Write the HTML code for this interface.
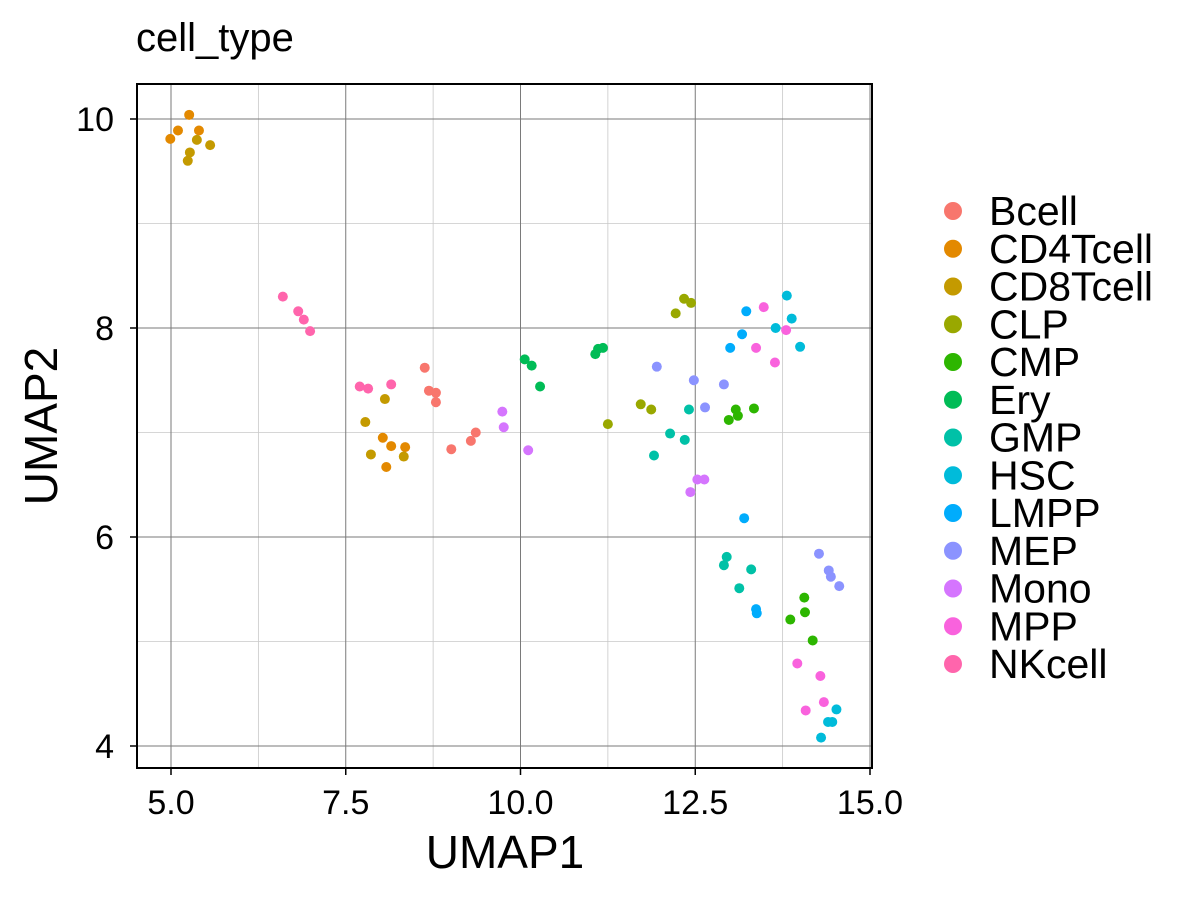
<!DOCTYPE html>
<html><head><meta charset="utf-8"><style>
body{margin:0;background:#fff;}
text{font-family:"Liberation Sans",Arial,sans-serif;}
</style></head><body>
<svg id="chart" width="1200" height="900" viewBox="0 0 1200 900">
<rect width="1200" height="900" fill="#fff"/>
<text x="136" y="51" font-size="40" fill="#000">cell_type</text>
<g id="grid"></g>
<g id="points"></g>
<rect x="137" y="84" width="735" height="684" fill="none" stroke="#000" stroke-width="2"/>
<g id="axes"></g>
<text x="505" y="868" font-size="46" text-anchor="middle">UMAP1</text>
<text transform="translate(57,426) rotate(-90)" font-size="46" text-anchor="middle">UMAP2</text>
<g id="legend"></g>
</svg>
<script>
const cellTypes=["Bcell","CD4Tcell","CD8Tcell","CLP","CMP","Ery","GMP","HSC","LMPP","MEP","Mono","MPP","NKcell"];
const typeColors=["#F8766D","#E38900","#C49A00","#99A800","#2DB600","#00BC56","#00C1A7","#00BBDA","#00ACFC","#8B93FF","#D575FE","#F962DD","#FF65AC"];
const xTicks=[5,7.5,10,12.5,15];
const xTickLabels=["5.0","7.5","10.0","12.5","15.0"];
const yTicks=[4,6,8,10];
const yTickLabels=["4","6","8","10"];
const xMinor=[6.25,8.75,11.25,13.75];
const yMinor=[5,7,9];
const bcellX=[8.63,8.69,8.79,8.79,9.36,9.29,9.01];
const bcellY=[7.62,7.40,7.38,7.29,7.00,6.92,6.84];
const cd4X=[5.26,5.10,5.40,4.99,8.03,8.15,8.35,8.08];
const cd4Y=[10.04,9.89,9.89,9.81,6.95,6.87,6.86,6.67];
const cd8X=[5.37,5.56,5.27,5.24,8.06,7.78,7.86,8.33];
const cd8Y=[9.80,9.75,9.68,9.60,7.32,7.10,6.79,6.77];
const clpX=[12.34,12.44,12.22,11.72,11.87,11.25];
const clpY=[8.28,8.24,8.14,7.27,7.22,7.08];
const cmpX=[13.08,13.34,13.11,12.98,14.06,14.07,13.86,14.18];
const cmpY=[7.22,7.23,7.16,7.12,5.42,5.28,5.21,5.01];
const eryX=[10.06,10.16,10.28,11.07,11.11,11.18];
const eryY=[7.70,7.64,7.44,7.75,7.80,7.81];
const gmpX=[12.41,12.14,12.35,11.91,12.95,12.91,13.30,13.13];
const gmpY=[7.22,6.99,6.93,6.78,5.81,5.73,5.69,5.51];
const hscX=[13.81,13.88,13.65,14.00,14.52,14.40,14.46,14.30];
const hscY=[8.31,8.09,8.00,7.82,4.35,4.23,4.23,4.08];
const lmppX=[13.23,13.17,13.00,13.20,13.37,13.38];
const lmppY=[8.16,7.94,7.81,6.18,5.31,5.27];
const mepX=[11.95,12.48,12.91,12.64,14.27,14.41,14.44,14.56];
const mepY=[7.63,7.50,7.46,7.24,5.84,5.68,5.62,5.53];
const monoX=[9.74,9.76,10.11,12.53,12.63,12.43];
const monoY=[7.20,7.05,6.83,6.55,6.55,6.43];
const mppX=[13.48,13.80,13.37,13.64,13.96,14.29,14.34,14.08];
const mppY=[8.20,7.98,7.81,7.67,4.79,4.67,4.42,4.34];
const nkX=[6.60,6.82,6.90,6.99,7.70,7.82,8.15];
const nkY=[8.30,8.16,8.08,7.97,7.44,7.42,7.46];
const seriesX=[bcellX,cd4X,cd8X,clpX,cmpX,eryX,gmpX,hscX,lmppX,mepX,monoX,mppX,nkX];
const seriesY=[bcellY,cd4Y,cd8Y,clpY,cmpY,eryY,gmpY,hscY,lmppY,mepY,monoY,mppY,nkY];

const NS="http://www.w3.org/2000/svg";
const sx=v=>171+(v-5)*69.9;
const sy=v=>119+(10-v)*104.5;
function mk(tag,attrs,parent){const e=document.createElementNS(NS,tag);for(const k in attrs)e.setAttribute(k,attrs[k]);parent.appendChild(e);return e;}
const grid=document.getElementById('grid');
xMinor.forEach(v=>{const l=mk('line',{x1:sx(v),x2:sx(v),y1:84,y2:768,stroke:'#c8c8c8','stroke-width':0.8},grid);

});
yMinor.forEach(v=>{const l=mk('line',{x1:137,x2:872,y1:sy(v),y2:sy(v),stroke:'#c8c8c8','stroke-width':0.8},grid);

});
xTicks.forEach(v=>{const l=mk('line',{x1:sx(v),x2:sx(v),y1:84,y2:768,stroke:'#7a7a7a','stroke-width':1},grid);

});
yTicks.forEach(v=>{const l=mk('line',{x1:137,x2:872,y1:sy(v),y2:sy(v),stroke:'#7a7a7a','stroke-width':1},grid);

});
const axes=document.getElementById('axes');
xTicks.forEach((v,i)=>{const t=mk('line',{x1:sx(v),x2:sx(v),y1:768,y2:775,stroke:'#000','stroke-width':1.5},axes);


const tx=mk('text',{x:sx(v),y:814,'font-size':34,'text-anchor':'middle'},axes);tx.textContent=xTickLabels[i];

});
yTicks.forEach((v,i)=>{const t=mk('line',{x1:130,x2:137,y1:sy(v),y2:sy(v),stroke:'#000','stroke-width':1.5},axes);


const tx=mk('text',{x:114,y:sy(v)+12,'font-size':34,'text-anchor':'end'},axes);tx.textContent=yTickLabels[i];

});
const pts=document.getElementById('points');
seriesX.forEach((xs,s)=>{xs.forEach((x,i)=>{const c=mk('circle',{cx:sx(x),cy:sy(seriesY[s][i]),r:5,fill:typeColors[s]},pts);

});});
const leg=document.getElementById('legend');
cellTypes.forEach((n,i)=>{const y=211+i*37.75;
const g=mk('g',{},leg);


mk('circle',{cx:953,cy:y,r:9,fill:typeColors[i]},g);
const t=mk('text',{x:989,y:y+14,'font-size':41},g);t.textContent=n;});
</script>
</body></html>
